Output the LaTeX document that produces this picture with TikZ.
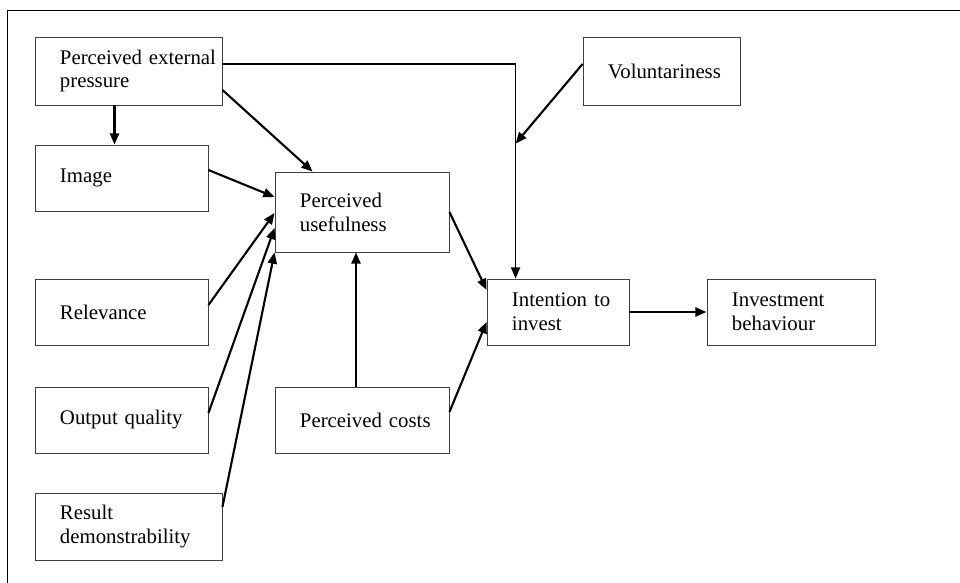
\documentclass[tikz,border=0pt]{standalone}
\usepackage{fontspec}
\setmainfont{Liberation Serif}
\usetikzlibrary{positioning, arrows.meta, calc}

\begin{document}
\begin{tikzpicture}[
    x=0.025cm, y=-0.025cm,
    box/.style={
      draw=black!75, line width=0.6pt, inner xsep=0pt, inner ysep=2pt,
      align=left, minimum height=1.65cm,
      font=\fontsize{14.8}{17}\selectfont,
      execute at begin node={\leftskip=0.625cm\relax}
    },
    arr/.style={-{Triangle[length=8pt,width=6.5pt]}, line width=1.5pt},
    frame/.style={line width=0.7pt}
  ]
    \useasboundingbox (0,0) rectangle (960,583);
    % open frame (top and left only)
    \draw[frame] (960,10) -- (7,10) -- (7,583);

    % Left column
    \node[box, text width=4.675cm, minimum height=1.7cm] (pep) at (128.5,71) {Perceived external\\pressure};
    \node[box, text width=4.325cm] (img) at (121.5,178) {Image};
    \node[box, text width=4.325cm] (rel) at (121.5,312) {Relevance};
    \node[box, text width=4.325cm] (oq)  at (121.5,420) {Output quality};
    \node[box, text width=4.675cm, minimum height=1.675cm] (rd) at (128.5,526.5) {Result\\demonstrability};

    % Middle column
    \node[box, text width=4.35cm, minimum height=2cm] (pu) at (362,212) {Perceived\\usefulness};
    \node[box, text width=4.35cm] (pc) at (362,420) {Perceived costs};

    % Right part
    \node[box, text width=3.925cm, minimum height=1.7cm] (vol) at (661.5,71) {Voluntariness};
    \node[box, text width=3.55cm] (int) at (558,312) {Intention to\\invest};
    \node[box, text width=4.2cm]  (ib)  at (791,312) {Investment\\behaviour};

    % Connectors
    \coordinate (vjoin) at ($(int.north west)+(29,-135)$);
    \draw[arr, line width=1pt] ($(pep.east)+(0,-7)$) -| ($(int.north west)+(29,0)$);
    \draw[arr] ($(vol.west)+(0,-7)$) -- (vjoin);
    \draw[arr] ($(pep.south)+(-14,0)$) -- ($(img.north)+(-7,0)$);
    \draw[arr] ($(pep.east)+(0,19)$) -- ($(pu.north west)+(38,0)$);
    \draw[arr] ($(img.east)+(0,-8)$) -- ($(pu.west)+(0,-15)$);
    \draw[arr] ($(rel.east)+(0,-7)$) -- ($(pu.west)+(0,1)$);
    \draw[arr] ($(oq.east)+(0,-7)$)  -- ($(pu.west)+(0,16)$);
    \draw[arr] ($(rd.east)+(0,-19.5)$) -- (pu.south west);
    \draw[arr] ($(pc.north)+(-6,0)$) -- ($(pu.south)+(-6,0)$);
    \draw[arr] (pu.east) -- ($(int.west)+(0,-22)$);
    \draw[arr] ($(pc.east)+(0,-8)$) -- ($(int.west)+(0,10)$);
    \draw[arr] (int.east) -- (ib.west);
\end{tikzpicture}
\end{document}
